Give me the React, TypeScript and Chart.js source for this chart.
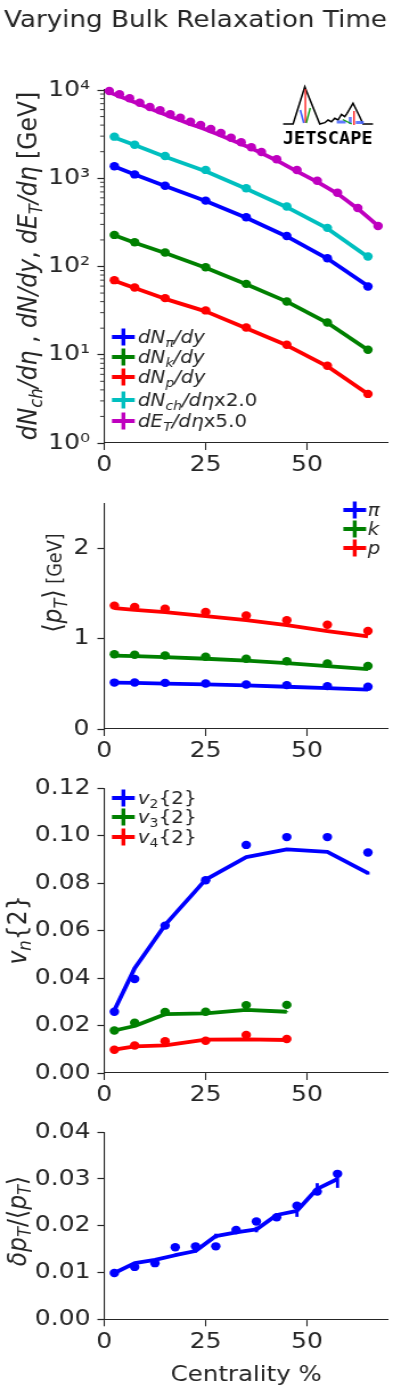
import React, { useEffect, useRef } from 'react';
import { Chart, registerables } from 'chart.js';

Chart.register(...registerables);

// ---------------- data ----------------
const centrality = [2.5, 7.5, 15, 25, 35, 45, 55, 65];
const dNpiModel = [1360, 1100, 815, 552, 357, 219, 123, 60];
const dNpiData = [1370, 1105, 822, 558, 361, 222, 124, 59.4];
const dNkModel = [226, 186, 142, 97, 63, 40, 23, 11.3];
const dNkData = [228, 188, 144, 98, 63.6, 40.2, 23.2, 11.4];
const dNpModel = [69, 57, 43, 31, 20, 12.8, 7.4, 3.6];
const dNpData = [70, 57.8, 43.8, 31.8, 20.4, 13, 7.5, 3.6];
const dNchModel = [2900, 2380, 1750, 1200, 760, 470, 270, 128];
const dNchData = [2960, 2400, 1790, 1243, 771, 478, 274, 130];
const etCentrality = [1.25, 3.75, 6.25, 8.75, 11.25, 13.75, 16.25, 18.75, 21.25, 23.75, 26.25, 28.75, 31.25, 33.75, 36.25, 38.75, 42.5, 47.5, 52.5, 57.5, 62.5, 67.5];
const dETData = [9750, 8935, 8050, 7180, 6415, 5885, 5305, 4856, 4374, 4013, 3611, 3258, 2877, 2560, 2243, 1984, 1640, 1240, 938, 685, 460, 288];
const dETModel = [9400, 8500, 7650, 6900, 6150, 5550, 5000, 4550, 4100, 3750, 3380, 3050, 2720, 2440, 2180, 1930, 1590, 1200, 910, 670, 452, 288];

const ptPiModel = [0.513, 0.510, 0.503, 0.495, 0.482, 0.468, 0.452, 0.437];
const ptPiData = [0.514, 0.515, 0.511, 0.504, 0.493, 0.486, 0.475, 0.468];
const ptKModel = [0.812, 0.806, 0.795, 0.778, 0.757, 0.730, 0.695, 0.664];
const ptKData = [0.827, 0.822, 0.813, 0.800, 0.778, 0.750, 0.725, 0.697];
const ptPModel = [1.338, 1.320, 1.293, 1.250, 1.205, 1.150, 1.085, 1.025];
const ptPData = [1.366, 1.352, 1.331, 1.296, 1.257, 1.204, 1.155, 1.085];

const centralityVn = [2.5, 7.5, 15, 25, 35, 45];
const v2Model = [0.0264, 0.0441, 0.0624, 0.0815, 0.0910, 0.0942, 0.0932, 0.0842];
const v2ModelErr = [0.0003, 0.0003, 0.0003, 0.0003, 0.0004, 0.0004, 0.0004, 0.0006];
const v2Data = [0.0258, 0.0396, 0.0621, 0.0812, 0.0961, 0.0994, 0.0994, 0.0929];
const v3Model = [0.0179, 0.0198, 0.0248, 0.0251, 0.0266, 0.0258];
const v3ModelErr = [0.0002, 0.0002, 0.0002, 0.0002, 0.0002, 0.0002];
const v3Data = [0.0179, 0.0212, 0.0257, 0.0258, 0.0286, 0.0287];
const v4Model = [0.0098, 0.0112, 0.0116, 0.0141, 0.0142, 0.0139];
const v4ModelErr = [0.0002, 0.0002, 0.0002, 0.0002, 0.0002, 0.0002];
const v4Data = [0.0098, 0.0116, 0.0134, 0.0136, 0.0160, 0.0143];

const centralityDpt = [2.5, 7.5, 12.5, 17.5, 22.5, 27.5, 32.5, 37.5, 42.5, 47.5, 52.5, 57.5];
const dptModel = [0.0099, 0.0120, 0.0127, 0.0137, 0.0146, 0.0178, 0.0186, 0.0192, 0.0223, 0.0232, 0.0279, 0.0300];
const dptModelErr = [0.0002, 0.0002, 0.0002, 0.0003, 0.0003, 0.0005, 0.0004, 0.0006, 0.0004, 0.0013, 0.0012, 0.0019];
const dptData = [0.0099, 0.0112, 0.0120, 0.0154, 0.0156, 0.0156, 0.0191, 0.0209, 0.0218, 0.0243, 0.0273, 0.0311];

const xTicks = [0, 25, 50];
const logTicks = [1, 10, 100, 1000, 10000];
const logTickLabels = ['10⁰', '10¹', '10²', '10³', '10⁴'];
const minorMult = [2, 3, 4, 5, 6, 7, 8, 9];
const ptTicks = [0, 1, 2];
const ptTickLabels = ['0', '1', '2'];
const vnTicks = [0, 0.02, 0.04, 0.06, 0.08, 0.1, 0.12];
const vnTickLabels = ['0.00', '0.02', '0.04', '0.06', '0.08', '0.10', '0.12'];
const dptTicks = [0, 0.01, 0.02, 0.03, 0.04];
const dptTickLabels = ['0.00', '0.01', '0.02', '0.03', '0.04'];

// ---------------- style ----------------
const S = 1.14; // horizontal stretch of the reference figure
const W = 345; // internal canvas width (393 / S)
const FAM = '"DejaVu Sans"';
const INK = '#262626';
const BLUE = '#0000ff';
const GREEN = '#008000';
const RED = '#ff0000';
const CYAN = '#00bfbf';
const MAG = '#bf00bf';
const LEFT = 91.5;

type Seg = { t: string; it?: boolean; sub?: boolean; sc?: number };

function segFont(s: Seg, size: number) {
  const fs = size * (s.sub ? 0.7 : 1) * (s.sc ?? 1);
  return `${s.it ? 'italic ' : ''}${fs.toFixed(2)}px ${FAM}`;
}

function drawRich(ctx: CanvasRenderingContext2D, segs: Seg[], x: number, cy: number, size: number, rotate = false) {
  ctx.save();
  ctx.fillStyle = INK;
  ctx.textAlign = 'left';
  ctx.textBaseline = 'alphabetic';
  let w = 0;
  for (const s of segs) {
    ctx.font = segFont(s, size);
    w += ctx.measureText(s.t).width;
  }
  let px: number;
  let base: number;
  if (rotate) {
    ctx.translate(x, cy);
    ctx.rotate(-Math.PI / 2);
    px = -w / 2;
    base = 0.36 * size;
  } else {
    px = x;
    base = cy + 0.36 * size;
  }
  for (const s of segs) {
    ctx.font = segFont(s, size);
    ctx.fillText(s.t, px, base + (s.sub ? 0.2 * size : 0));
    px += ctx.measureText(s.t).width;
  }
  ctx.restore();
}

type LegendItem = { color: string; segs: Seg[] };

function drawLegend(ctx: CanvasRenderingContext2D, items: LegendItem[], cx: number, textX: number, rows: number[], size: number) {
  items.forEach((it, i) => {
    const y = rows[i];
    ctx.save();
    ctx.strokeStyle = it.color;
    ctx.lineCap = 'butt';
    ctx.lineWidth = 4;
    ctx.beginPath();
    ctx.moveTo(cx - 10, y);
    ctx.lineTo(cx + 10, y);
    ctx.stroke();
    ctx.lineWidth = 3.4;
    ctx.beginPath();
    ctx.moveTo(cx, y - 8.5);
    ctx.lineTo(cx, y + 8.5);
    ctx.stroke();
    ctx.restore();
    drawRich(ctx, it.segs, textX, y, size);
  });
}

function drawErrs(chart: any) {
  const ctx = chart.ctx;
  const ys = chart.scales.y;
  chart.data.datasets.forEach((ds: any, i: number) => {
    const errs: number[] | undefined = ds.errs;
    if (!errs) return;
    const meta = chart.getDatasetMeta(i);
    ctx.save();
    ctx.strokeStyle = ds.borderColor;
    ctx.lineWidth = 2.8;
    meta.data.forEach((pt: any, j: number) => {
      const v = ds.data[j].y;
      const e = errs[j];
      ctx.beginPath();
      ctx.moveTo(pt.x, ys.getPixelForValue(v - e));
      ctx.lineTo(pt.x, ys.getPixelForValue(v + e));
      ctx.stroke();
    });
    ctx.restore();
  });
}

function drawMinor(chart: any) {
  const ctx = chart.ctx;
  const ys = chart.scales.y;
  const left = chart.chartArea.left;
  ctx.save();
  ctx.strokeStyle = INK;
  ctx.lineWidth = 0.9;
  for (let k = 0; k < 4; k++) {
    for (const m of minorMult) {
      const py = ys.getPixelForValue(m * Math.pow(10, k));
      ctx.beginPath();
      ctx.moveTo(left - 3.6, py);
      ctx.lineTo(left, py);
      ctx.stroke();
    }
  }
  ctx.restore();
}

const logoPeaks: [number, number][] = [
  [283.3, 124], [293.3, 124], [305, 86.7], [320, 124], [325, 122.7], [328.3, 120], [331.7, 121.7],
  [335, 118.3], [338.3, 120], [341.7, 114.3], [345, 116.7], [347.3, 113.3], [353.3, 103.3],
  [360, 116.7], [363.3, 124], [373.3, 124],
];

function drawLogo(ctx: CanvasRenderingContext2D) {
  const seg = (c: string, x1: number, y1: number, x2: number, y2: number, lw: number) => {
    ctx.strokeStyle = c;
    ctx.lineWidth = lw;
    ctx.beginPath();
    ctx.moveTo(x1 / S, y1);
    ctx.lineTo(x2 / S, y2);
    ctx.stroke();
  };
  ctx.save();
  ctx.lineJoin = 'miter';
  ctx.strokeStyle = '#000';
  ctx.lineWidth = 1.5;
  ctx.beginPath();
  logoPeaks.forEach(([x, y], i) => (i ? ctx.lineTo(x / S, y) : ctx.moveTo(x / S, y)));
  ctx.stroke();
  seg('#ff2020', 305.6, 89, 305.6, 123, 1.4);
  seg('#4060ff', 300.5, 110, 304, 123, 1.6);
  seg('#10a010', 306.5, 123, 310.5, 108, 1.4);
  ctx.fillStyle = 'rgba(70,100,255,0.85)';
  ctx.fillRect(337 / S, 120.5, 9 / S, 3);
  ctx.fillRect(349 / S, 117, 3 / S, 7);
  ctx.fillRect(356 / S, 121, 8 / S, 3);
  seg('#10a010', 343, 119.5, 352, 124, 1.2);
  seg('#ff2020', 354.3, 111, 354.3, 125, 1.4);
  ctx.font = `bold 17px "DejaVu Sans Mono"`;
  ctx.fillStyle = '#000';
  ctx.textAlign = 'left';
  ctx.textBaseline = 'alphabetic';
  ctx.fillText('JETSCAPE', 283 / S, 143.5, 90 / S);
  ctx.restore();
}

// ---------------- dataset builders ----------------
const line = (xs: number[], ys: number[], color: string, errs?: number[]) => ({
  data: xs.slice(0, ys.length).map((x, i) => ({ x, y: ys[i] })),
  showLine: true,
  borderColor: color,
  backgroundColor: color,
  borderWidth: 3.8,
  pointRadius: 0,
  tension: 0,
  order: 2,
  clip: false,
  borderCapStyle: 'butt',
  borderJoinStyle: 'round',
  errs,
});

const dots = (xs: number[], ys: number[], color: string) => ({
  data: xs.slice(0, ys.length).map((x, i) => ({ x, y: ys[i] })),
  showLine: false,
  pointRadius: 4.2,
  pointBorderWidth: 0,
  pointBackgroundColor: color,
  backgroundColor: color,
  borderColor: color,
  order: 1,
  clip: false,
});

const tickFont = { family: FAM, size: 22 };

const xAxis = (height: number, title?: string) => ({
  type: 'linear',
  min: 0,
  max: 70,
  afterBuildTicks: (s: any) => {
    s.ticks = xTicks.map((v) => ({ value: v }));
  },
  afterFit: (s: any) => {
    s.height = height;
  },
  grid: { display: true, drawOnChartArea: false, drawTicks: true, tickLength: 7, tickColor: INK, tickWidth: 1.1 },
  border: { display: true, color: INK, width: 1.1 },
  ticks: { font: tickFont, color: INK, padding: 2.5, maxRotation: 0, autoSkip: false, callback: (v: number) => String(v) },
  title: title
    ? { display: true, text: title, color: INK, font: { family: FAM, size: 21.5, lineHeight: 1.2 }, padding: { top: 0, bottom: 3.4 } }
    : { display: false },
});

const yAxis = (type: string, min: number, max: number, ticks: number[], labels: string[], pad: number) => ({
  type,
  min,
  max,
  afterBuildTicks: (s: any) => {
    s.ticks = ticks.map((v) => ({ value: v }));
  },
  afterFit: (s: any) => {
    s.width = LEFT;
  },
  grid: { display: true, drawOnChartArea: false, drawTicks: true, tickLength: 6, tickColor: INK, tickWidth: 1.2 },
  border: { display: true, color: INK, width: 1.1 },
  ticks: { font: tickFont, color: INK, padding: pad, autoSkip: false, callback: (_v: number, i: number) => labels[i] },
});

const baseOptions = (padTop: number, scales: any, title?: any) => ({
  animation: false,
  responsive: false,
  events: [],
  layout: { padding: { top: padTop, left: 0, right: 1.8, bottom: 0 } },
  plugins: {
    legend: { display: false },
    tooltip: { enabled: false },
    title: title ?? { display: false },
  },
  scales,
});

// ---------------- labels ----------------
const yLabelYield: Seg[] = [
  { t: 'dN', it: true }, { t: 'ch', it: true, sub: true }, { t: '/dη', it: true }, { t: ' , ' },
  { t: 'dN/dy', it: true }, { t: ', ' }, { t: 'dE', it: true }, { t: 'T', it: true, sub: true },
  { t: '/dη', it: true }, { t: ' [GeV]' },
];
const yLabelPt: Seg[] = [{ t: '⟨' }, { t: 'p', it: true }, { t: 'T', it: true, sub: true }, { t: '⟩' }, { t: ' [GeV]', sc: 0.75 }];
const yLabelVn: Seg[] = [{ t: 'v', it: true }, { t: 'n', it: true, sub: true }, { t: '{2}' }];
const yLabelDpt: Seg[] = [
  { t: 'δp', it: true }, { t: 'T', it: true, sub: true }, { t: '/⟨' }, { t: 'p', it: true },
  { t: 'T', it: true, sub: true }, { t: '⟩' },
];

const legendYield: LegendItem[] = [
  { color: BLUE, segs: [{ t: 'dN', it: true }, { t: 'π', it: true, sub: true }, { t: '/dy', it: true }] },
  { color: GREEN, segs: [{ t: 'dN', it: true }, { t: 'k', it: true, sub: true }, { t: '/dy', it: true }] },
  { color: RED, segs: [{ t: 'dN', it: true }, { t: 'p', it: true, sub: true }, { t: '/dy', it: true }] },
  { color: CYAN, segs: [{ t: 'dN', it: true }, { t: 'ch', it: true, sub: true }, { t: '/dη', it: true }, { t: 'x2.0' }] },
  { color: MAG, segs: [{ t: 'dE', it: true }, { t: 'T', it: true, sub: true }, { t: '/dη', it: true }, { t: 'x5.0' }] },
];
const legendPt: LegendItem[] = [
  { color: BLUE, segs: [{ t: 'π', it: true }] },
  { color: GREEN, segs: [{ t: 'k', it: true }] },
  { color: RED, segs: [{ t: 'p', it: true }] },
];
const legendVn: LegendItem[] = [
  { color: BLUE, segs: [{ t: 'v', it: true }, { t: '2', sub: true }, { t: '{2}' }] },
  { color: GREEN, segs: [{ t: 'v', it: true }, { t: '3', sub: true }, { t: '{2}' }] },
  { color: RED, segs: [{ t: 'v', it: true }, { t: '4', sub: true }, { t: '{2}' }] },
];

// ---------------- chart configs ----------------
function configYield() {
  return {
    type: 'scatter',
    data: {
      datasets: [
        line(centrality, dNpiModel, BLUE),
        line(centrality, dNkModel, GREEN),
        line(centrality, dNpModel, RED),
        line(centrality, dNchModel, CYAN),
        line(etCentrality, dETModel, MAG),
        dots(centrality, dNpiData, BLUE),
        dots(centrality, dNkData, GREEN),
        dots(centrality, dNpData, RED),
        dots(centrality, dNchData, CYAN),
        dots(etCentrality, dETData, MAG),
      ],
    },
    options: baseOptions(
      0,
      { x: xAxis(40), y: yAxis('logarithmic', 1, 10000, logTicks, logTickLabels, 6.5) },
      {
        display: true,
        text: 'Varying Bulk Relaxation Time',
        color: INK,
        font: { family: FAM, size: 23, weight: 'normal', lineHeight: 1.2 },
        padding: { top: 7, bottom: 55.4 },
      }
    ),
    plugins: [
      {
        id: 'decorYield',
        afterDraw(chart: any) {
          const ctx = chart.ctx;
          drawMinor(chart);
          drawRich(ctx, yLabelYield, 23.7, 266, 23.5, true);
          drawLegend(ctx, legendYield, 108.3, 121, [337, 357, 377, 400, 421], 17.5);
          drawLogo(ctx);
        },
      },
    ],
  };
}

function configPt() {
  return {
    type: 'scatter',
    data: {
      datasets: [
        line(centrality, ptPiModel, BLUE),
        line(centrality, ptKModel, GREEN),
        line(centrality, ptPModel, RED),
        dots(centrality, ptPiData, BLUE),
        dots(centrality, ptKData, GREEN),
        dots(centrality, ptPData, RED),
      ],
    },
    options: baseOptions(9.6, { x: xAxis(40), y: yAxis('linear', 0, 2.5, ptTicks, ptTickLabels, 7) }),
    plugins: [
      {
        id: 'decorPt',
        afterDraw(chart: any) {
          const ctx = chart.ctx;
          drawRich(ctx, yLabelPt, 45.6, 100, 23.5, true);
          drawLegend(ctx, legendPt, 311.4, 322.8, [27, 46, 65], 17.5);
        },
      },
    ],
  };
}

function configVn() {
  return {
    type: 'scatter',
    data: {
      datasets: [
        line(centrality, v2Model, BLUE, v2ModelErr),
        line(centralityVn, v3Model, GREEN, v3ModelErr),
        line(centralityVn, v4Model, RED, v4ModelErr),
        dots(centrality, v2Data, BLUE),
        dots(centralityVn, v3Data, GREEN),
        dots(centralityVn, v4Data, RED),
      ],
    },
    options: baseOptions(9, { x: xAxis(40), y: yAxis('linear', 0, 0.12, vnTicks, vnTickLabels, 6) }),
    plugins: [
      {
        id: 'decorVn',
        afterDatasetsDraw(chart: any) {
          drawErrs(chart);
        },
        afterDraw(chart: any) {
          const ctx = chart.ctx;
          drawRich(ctx, yLabelVn, 14.2, 161, 23.5, true);
          drawLegend(ctx, legendVn, 108.3, 121, [29, 48, 68], 17.5);
        },
      },
    ],
  };
}

function configDpt() {
  return {
    type: 'scatter',
    data: {
      datasets: [line(centralityDpt, dptModel, BLUE, dptModelErr), dots(centralityDpt, dptData, BLUE)],
    },
    options: baseOptions(10, { x: xAxis(72.7, 'Centrality %'), y: yAxis('linear', 0, 0.04, dptTicks, dptTickLabels, 6) }),
    plugins: [
      {
        id: 'decorDpt',
        afterDatasetsDraw(chart: any) {
          drawErrs(chart);
        },
        afterDraw(chart: any) {
          drawRich(chart.ctx, yLabelDpt, 14.2, 108, 23.5, true);
        },
      },
    ],
  };
}

function Panel({ top, height, make }: { top: number; height: number; make: () => any }) {
  const ref = useRef<HTMLCanvasElement>(null);
  useEffect(() => {
    const chart = new Chart(ref.current as HTMLCanvasElement, make() as any);
    return () => chart.destroy();
  }, []);
  return (
    <canvas
      ref={ref}
      width={W}
      height={height}
      style={{ position: 'absolute', left: 0, top, width: '393px', height: `${height}px`, display: 'block' }}
    />
  );
}

export default function App() {
  return (
    <div style={{ position: 'absolute', left: 0, top: 0, width: 393, height: 1392, background: '#ffffff', overflow: 'hidden' }}>
      <Panel top={0} height={483} make={configYield} />
      <Panel top={483} height={286} make={configPt} />
      <Panel top={769} height={344} make={configVn} />
      <Panel top={1113} height={279} make={configDpt} />
    </div>
  );
}
